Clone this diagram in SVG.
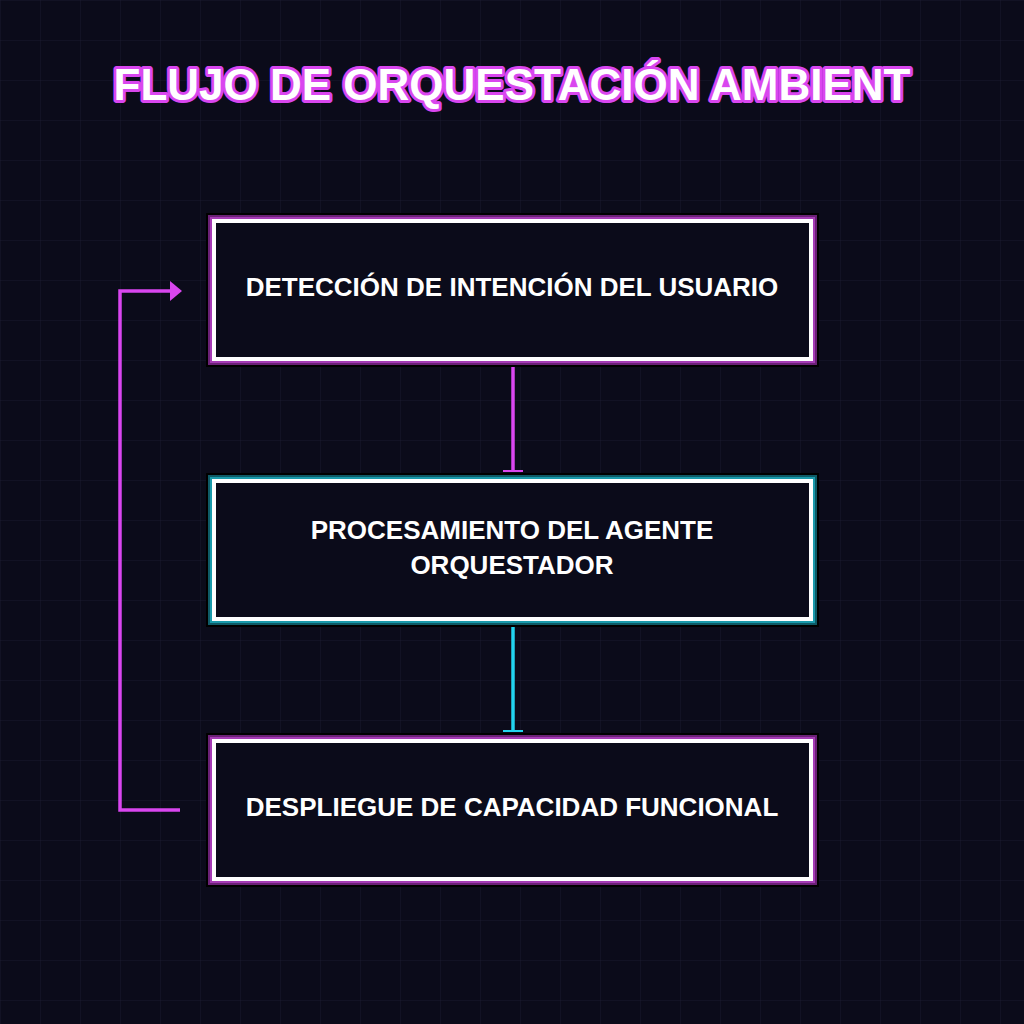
<svg xmlns="http://www.w3.org/2000/svg" width="1024" height="1024" viewBox="0 0 1024 1024">
<defs>
<pattern id="grid" width="40" height="40" patternUnits="userSpaceOnUse"><path d="M40 0H0V40" fill="none" stroke="#1a1a2e" stroke-width="1"/></pattern>
<marker id="arr" markerWidth="12" markerHeight="20" refX="2" refY="10" orient="auto" markerUnits="userSpaceOnUse"><path d="M0 0L12 10L0 20Z" fill="#d946ef"/></marker>
<style>
.t{font-family:"Liberation Sans",Arial,sans-serif;font-weight:bold;fill:#fff;text-anchor:middle}
.lbl{font-size:26px}
.in{fill:#0b0b1a;stroke:#fff;stroke-width:4}
</style>
</defs>
<rect width="1024" height="1024" fill="#0b0b1a"/>
<rect width="1024" height="1024" fill="url(#grid)"/>
<text class="t" x="512" y="100" font-size="44" stroke="#d946ef" stroke-width="6" paint-order="stroke" stroke-linejoin="round">FLUJO DE ORQUESTACIÓN AMBIENT</text>
<g id="connectors" fill="none" stroke-width="3.5">
<line x1="513" y1="361" x2="513" y2="471" stroke="#d946ef"/>
<line x1="503" y1="471" x2="523" y2="471" stroke="#d946ef" stroke-width="2"/>
<line x1="513" y1="621" x2="513" y2="731" stroke="#22d3ee"/>
<line x1="503" y1="731" x2="523" y2="731" stroke="#22d3ee" stroke-width="2"/>
<polyline points="180,810 120,810 120,291 172,291" stroke="#d946ef" marker-end="url(#arr)"/>
</g>
<g id="n1">
<rect x="206" y="213" width="613" height="154" fill="#000"/>
<rect x="208" y="215" width="609" height="150" fill="#6b2176"/>
<rect x="210" y="217" width="605" height="146" fill="#a53bb5"/>
<rect class="in" x="214" y="221" width="597" height="138"/>
<text class="t lbl" x="512" y="296">DETECCIÓN DE INTENCIÓN DEL USUARIO</text>
</g>
<g id="n2">
<rect x="206" y="473" width="613" height="154" fill="#000"/>
<rect x="208" y="475" width="609" height="150" fill="#0e5a66"/>
<rect x="210" y="477" width="605" height="146" fill="#1a9aab"/>
<rect class="in" x="214" y="481" width="597" height="138"/>
<text class="t lbl" x="512" y="539">PROCESAMIENTO DEL AGENTE</text>
<text class="t lbl" x="512" y="574">ORQUESTADOR</text>
</g>
<g id="n3">
<rect x="206" y="733" width="613" height="154" fill="#000"/>
<rect x="208" y="735" width="609" height="150" fill="#6b2176"/>
<rect x="210" y="737" width="605" height="146" fill="#a53bb5"/>
<rect class="in" x="214" y="741" width="597" height="138"/>
<text class="t lbl" x="512" y="816">DESPLIEGUE DE CAPACIDAD FUNCIONAL</text>
</g>
</svg>
